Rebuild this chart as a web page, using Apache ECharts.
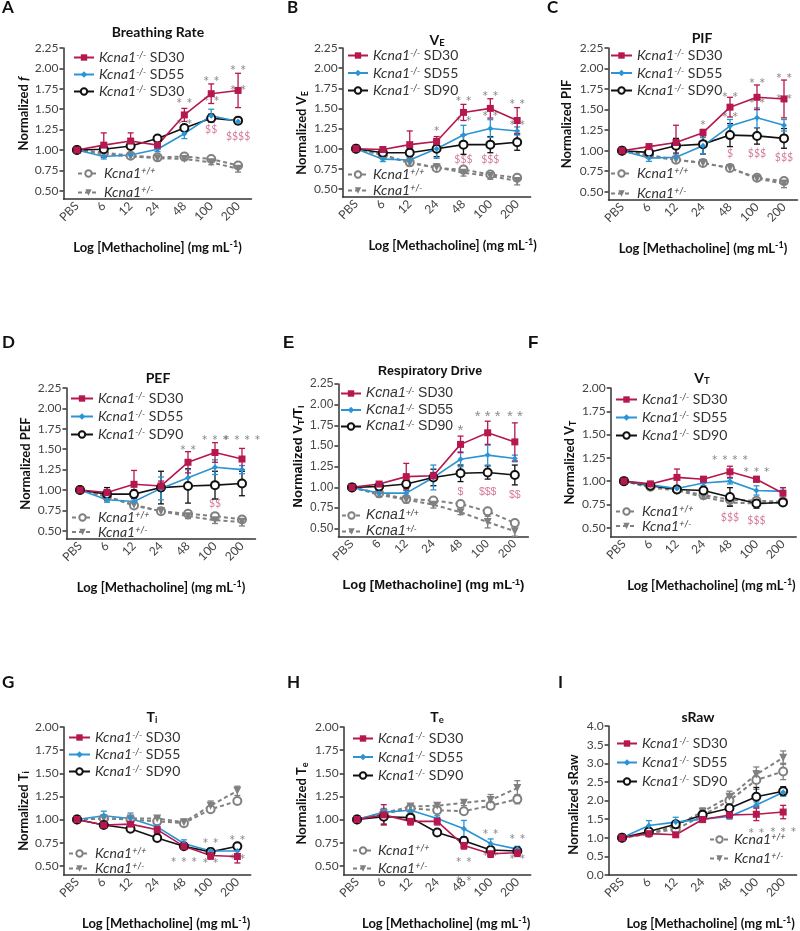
<!DOCTYPE html>
<html><head><meta charset="utf-8">
<script src="https://cdn.jsdelivr.net/npm/echarts@6/dist/echarts.min.js"></script>
<style>html,body{margin:0;padding:0;background:#fff}#c{width:800px;height:931px}</style>
</head><body><div id="c"></div>
<script>
// ---------------- DATA ----------------
const categories = ['PBS','6','12','24','48','100','200'];
const yTicks225 = [0.5,0.75,1.0,1.25,1.5,1.75,2.0,2.25];
const yTicks200 = [0.5,0.75,1.0,1.25,1.5,1.75,2.0];
const yTicksRaw = [0,0.5,1.0,1.5,2.0,2.5,3.0,3.5,4.0];

// A – Breathing Rate
const A_sd30 = [1.00,1.06,1.11,1.06,1.43,1.69,1.73];
const A_sd30_err = [0,0.15,0.10,0.05,0.08,0.12,0.21];
const A_sd55 = [1.00,0.92,0.94,1.01,1.20,1.42,1.35];
const A_sd55_err = [0,0.03,0.03,0.03,0.06,0.08,0.03];
const A_sd90 = [1.00,1.01,1.05,1.14,1.27,1.39,1.36];
const A_sd90_err = [0,0.04,0.04,0.02,0.04,0.05,0.04];
const A_wt = [1.00,0.97,0.93,0.91,0.92,0.89,0.81];
const A_wt_err = [0,0.02,0.02,0.02,0.02,0.02,0.03];
const A_het = [1.00,0.95,0.92,0.90,0.89,0.85,0.77];
const A_het_err = [0,0.02,0.02,0.02,0.02,0.03,0.04];
const A_stars = [[4,1.61,'* *'],[4,1.35,'* *'],[5,1.88,'* *'],[5,1.63,'* *'],[6,2.02,'* *'],[6,1.77,'* *']];
const A_dollars = [[5,1.25,'$$'],[6,1.17,'$$$$']];

// B – VE
const B_sd30 = [1.00,0.99,1.05,1.09,1.45,1.50,1.35];
const B_sd30_err = [0,0.03,0.17,0.06,0.10,0.12,0.16];
const B_sd55 = [1.00,0.87,0.86,1.00,1.17,1.25,1.22];
const B_sd55_err = [0,0.03,0.04,0.12,0.12,0.11,0.05];
const B_sd90 = [1.00,0.95,0.95,1.00,1.05,1.05,1.08];
const B_sd90_err = [0,0.03,0.05,0.10,0.12,0.10,0.10];
const B_wt = [1.00,0.92,0.83,0.76,0.74,0.68,0.64];
const B_wt_err = [0,0.02,0.02,0.02,0.03,0.03,0.03];
const B_het = [1.00,0.92,0.82,0.77,0.70,0.66,0.60];
const B_het_err = [0,0.02,0.03,0.02,0.04,0.04,0.05];
const B_stars = [[3,1.25,'*'],[4,1.63,'* *'],[4,1.38,'* *'],[5,1.69,'* *'],[5,1.44,'* *'],[6,1.59,'* *'],[6,1.33,'* *']];
const B_dollars = [[4,0.86,'$$$'],[5,0.86,'$$$']];

// C – PIF
const C_sd30 = [1.00,1.05,1.10,1.22,1.53,1.65,1.63];
const C_sd30_err = [0,0.03,0.21,0.04,0.12,0.15,0.23];
const C_sd55 = [1.00,0.91,0.92,1.06,1.30,1.40,1.31];
const C_sd55_err = [0,0.04,0.04,0.10,0.08,0.12,0.07];
const C_sd90 = [1.00,0.98,1.06,1.08,1.19,1.18,1.15];
const C_sd90_err = [0,0.03,0.09,0.12,0.14,0.10,0.12];
const C_wt = [1.00,0.95,0.89,0.85,0.79,0.67,0.63];
const C_wt_err = [0,0.02,0.02,0.02,0.02,0.03,0.03];
const C_het = [1.00,0.93,0.89,0.85,0.79,0.66,0.60];
const C_het_err = [0,0.02,0.02,0.02,0.02,0.03,0.05];
const C_stars = [[3,1.35,'*'],[4,1.69,'* *'],[4,1.44,'* *'],[5,1.86,'* *'],[5,1.62,'* *'],[6,1.92,'* *'],[6,1.66,'* *']];
const C_dollars = [[4,0.96,'$'],[5,0.96,'$$$'],[6,0.92,'$$$']];

// D – PEF
const D_sd30 = [1.00,0.97,1.07,1.05,1.34,1.46,1.38];
const D_sd30_err = [0,0.03,0.17,0.06,0.13,0.12,0.13];
const D_sd55 = [1.00,0.88,0.86,1.02,1.15,1.28,1.25];
const D_sd55_err = [0,0.03,0.03,0.14,0.10,0.09,0.05];
const D_sd90 = [1.00,0.95,0.95,1.03,1.05,1.06,1.08];
const D_sd90_err = [0,0.08,0.05,0.20,0.21,0.17,0.15];
const D_wt = [1.00,0.92,0.81,0.74,0.71,0.68,0.64];
const D_wt_err = [0,0.02,0.02,0.02,0.03,0.03,0.03];
const D_het = [1.00,0.92,0.82,0.74,0.68,0.63,0.61];
const D_het_err = [0,0.02,0.02,0.02,0.03,0.04,0.05];
const D_stars = [[4,1.53,'* *'],[5,1.65,'* * *'],[6,1.65,'* * * *']];
const D_dollars = [[5,0.83,'$$']];

// E – Respiratory Drive (VT/Ti)
const E_sd30 = [1.00,1.04,1.13,1.14,1.52,1.66,1.55];
const E_sd30_err = [0,0.03,0.16,0.04,0.10,0.14,0.23];
const E_sd55 = [1.00,0.93,0.93,1.12,1.34,1.39,1.35];
const E_sd55_err = [0,0.02,0.03,0.15,0.09,0.12,0.04];
const E_sd90 = [1.00,1.01,1.04,1.12,1.17,1.18,1.15];
const E_sd90_err = [0,0.03,0.05,0.10,0.10,0.08,0.12];
const E_wt = [1.00,0.93,0.86,0.84,0.80,0.71,0.57];
const E_wt_err = [0,0.02,0.03,0.02,0.02,0.03,0.03];
const E_het = [1.00,0.91,0.85,0.79,0.70,0.58,0.47];
const E_het_err = [0,0.03,0.04,0.04,0.03,0.07,0.06];
const E_stars = [[4,1.73,'*'],[5,1.90,'* * *'],[6,1.90,'* *']];
const E_dollars = [[4,0.94,'$'],[5,0.94,'$$$'],[6,0.91,'$$']];

// F – VT
const F_sd30 = [1.00,0.97,1.04,1.02,1.10,1.02,0.87];
const F_sd30_err = [0,0.02,0.09,0.03,0.06,0.03,0.06];
const F_sd55 = [1.00,0.96,0.92,0.98,1.00,0.90,0.89];
const F_sd55_err = [0,0.02,0.03,0.03,0.03,0.05,0.04];
const F_sd90 = [1.00,0.95,0.91,0.90,0.83,0.76,0.77];
const F_sd90_err = [0,0.02,0.02,0.03,0.10,0.05,0.03];
const F_wt = [1.00,0.94,0.91,0.85,0.80,0.79,0.78];
const F_wt_err = [0,0.02,0.02,0.02,0.03,0.03,0.03];
const F_het = [1.00,0.93,0.90,0.83,0.77,0.76,0.77];
const F_het_err = [0,0.02,0.02,0.02,0.03,0.03,0.03];
const F_stars = [[4,1.26,'* * * *'],[5,1.13,'* * *']];
const F_dollars = [[4,0.61,'$$$'],[5,0.58,'$$$']];

// G – Ti
const G_sd30 = [1.00,0.94,0.95,0.89,0.71,0.61,0.60];
const G_sd30_err = [0,0.03,0.04,0.04,0.03,0.04,0.07];
const G_sd55 = [1.00,1.04,1.01,0.92,0.74,0.66,0.66];
const G_sd55_err = [0,0.05,0.06,0.03,0.04,0.03,0.03];
const G_sd90 = [1.00,0.94,0.90,0.80,0.71,0.65,0.71];
const G_sd90_err = [0,0.03,0.03,0.02,0.02,0.03,0.03];
const G_wt = [1.00,1.01,1.00,0.98,0.96,1.11,1.20];
const G_wt_err = [0,0.02,0.02,0.02,0.02,0.03,0.03];
const G_het = [1.00,1.01,1.01,1.01,0.97,1.15,1.31];
const G_het_err = [0,0.02,0.02,0.02,0.02,0.05,0.05];
const G_stars = [[5,0.78,'* *'],[6,0.81,'* *'],[4,0.57,'* * *'],[5,0.56,'* *'],[6,0.60,'* *']];
const G_dollars = [];

// H – Te
const H_sd30 = [1.00,1.05,0.98,0.98,0.72,0.63,0.64];
const H_sd30_err = [0,0.11,0.04,0.04,0.04,0.04,0.04];
const H_sd55 = [1.00,1.08,1.10,1.01,0.90,0.74,0.68];
const H_sd55_err = [0,0.04,0.03,0.03,0.09,0.05,0.03];
const H_sd90 = [1.00,1.03,1.02,0.86,0.77,0.67,0.66];
const H_sd90_err = [0,0.08,0.03,0.02,0.04,0.03,0.03];
const H_wt = [1.00,1.06,1.12,1.10,1.09,1.15,1.22];
const H_wt_err = [0,0.03,0.03,0.03,0.02,0.04,0.05];
const H_het = [1.00,1.07,1.14,1.15,1.18,1.21,1.34];
const H_het_err = [0,0.03,0.03,0.03,0.03,0.06,0.08];
const H_stars = [[4,0.57,'* *'],[4,0.37,'* *'],[5,0.87,'* *'],[5,0.64,'* *'],[6,0.82,'* *'],[6,0.60,'* *']];
const H_dollars = [];

// I – sRaw
const I_sd30 = [1.00,1.11,1.08,1.49,1.61,1.63,1.69];
const I_sd30_err = [0,0.05,0.05,0.08,0.08,0.17,0.18];
const I_sd55 = [1.00,1.33,1.42,1.50,1.57,1.88,2.22];
const I_sd55_err = [0,0.13,0.13,0.07,0.07,0.08,0.10];
const I_sd90 = [1.00,1.17,1.36,1.62,1.79,2.10,2.25];
const I_sd90_err = [0,0.05,0.08,0.10,0.12,0.25,0.12];
const I_wt = [1.00,1.13,1.22,1.60,2.00,2.55,2.78];
const I_wt_err = [0,0.04,0.06,0.08,0.12,0.25,0.22];
const I_het = [1.00,1.10,1.32,1.70,2.10,2.70,3.15];
const I_het_err = [0,0.04,0.08,0.10,0.15,0.20,0.18];
const I_stars = [[5,1.20,'* *'],[6,1.23,'* * *']];
const I_dollars = [];

// ---------------- STYLE / LAYOUT ----------------
const FONT = 'Lato, "Open Sans", sans-serif';
const FONT_E = '"Liberation Sans", Arial, sans-serif';
const COL = {sd30:'#b5174e', sd55:'#2a94d4', sd90:'#111111', wt:'#808080', het:'#808080'};
const AXC = '#333';
const TXT = '#444';

function pdata(id){
  return {
    sd30:[eval(id+'_sd30'), eval(id+'_sd30_err')],
    sd55:[eval(id+'_sd55'), eval(id+'_sd55_err')],
    sd90:[eval(id+'_sd90'), eval(id+'_sd90_err')],
    wt:[eval(id+'_wt'), eval(id+'_wt_err')],
    het:[eval(id+'_het'), eval(id+'_het_err')],
    stars: eval(id+'_stars'), dollars: eval(id+'_dollars')
  };
}

const panels = [
 {id:'A', ff:FONT, grid:[63.5,48,188,151], ymin:0.4, ymax:2.25, ticks:yTicks225, dec:2,
  yName:'{b|Normalized }{bi|f}', yGap:32.5, yPad:[0,0,0,20], xPad:0,
  title:'{t|Breathing Rate}', tPos:[158,32], letter:[2,8],
  legTop:[73,57,16,20], legBot:[77,173,18,21], sd90Label:'SD30'},
 {id:'B', ff:FONT, grid:[342.6,48,188,149], ymin:0.4, ymax:2.25, ticks:yTicks225, dec:2,
  yName:'{b|Normalized V}{sub|E}', yGap:33.5, yPad:[0,21,0,0], xPad:32,
  title:'{t|V}{s|E}', tPos:[437,40], letter:[287,8],
  legTop:[347,55,16.5,20], legBot:[347,174,15,20], sd90Label:'SD90'},
 {id:'C', ff:FONT, grid:[608.5,48,189,152], ymin:0.4, ymax:2.25, ticks:yTicks225, dec:2,
  yName:'{b|Normalized PIF}', yGap:34.5, yPad:[0,0,0,0], xPad:0,
  title:'{t|PIF}', tPos:[702,38], letter:[547,8],
  legTop:[610,55,16.5,21], legBot:[610,173,19,21], sd90Label:'SD90'},
 {id:'D', ff:FONT, grid:[66.5,388,189,151], ymin:0.4, ymax:2.25, ticks:yTicks225, dec:2,
  yName:'{b|Normalized PEF}', yGap:33.5, yPad:[0,0,0,0], xPad:0,
  title:'{t|PEF}', tPos:[158,378], letter:[2,343],
  legTop:[70,398,17,22], legBot:[71,517,13.5,21], sd90Label:'SD90'},
 {id:'E', ff:FONT_E, grid:[338.4,384,190,153], ymin:0.4, ymax:2.25, ticks:yTicks225, dec:2, tSize:12.5,
  yName:'{b|Normalized V}{sub|T}{b|/T}{sub|I}', yGap:32.5, yPad:[0,0,0,8], xPad:0,
  title:'{t|Respiratory Drive}', tPos:[430,372], letter:[283,343],
  legTop:[340,393,15.5,20], legBot:[341,515,15,19], sd90Label:'SD90'},
 {id:'F', ff:FONT, grid:[610.7,388,185.5,149], ymin:0.4, ymax:2.0, ticks:yTicks200, dec:2,
  yName:'{b|Normalized V}{sub|T}', yGap:33, yPad:[0,0,0,0], xPad:16,
  title:'{t|V}{s|T}', tPos:[702,378], letter:[528,343], letterFF:FONT_E,
  legTop:[615,399,17,21], legBot:[615,511,13.5,21], sd90Label:'SD90'},
 {id:'G', ff:FONT, grid:[63.7,727,187,149], ymin:0.4, ymax:2.0, ticks:yTicks200, dec:2,
  yName:'{b|Normalized T}{sub|i}', yGap:31.5, yPad:[0,20,0,0], xPad:18,
  title:'{t|T}{s|i}', tPos:[152,717], letter:[2,683],
  legTop:[68,737,16,21], legBot:[68,853,14,21], sd90Label:'SD90'},
 {id:'H', ff:FONT, grid:[343.7,727,187,149], ymin:0.4, ymax:2.0, ticks:yTicks200, dec:2,
  yName:'{b|Normalized T}{sub|e}', yGap:34.5, yPad:[0,5,0,0], xPad:18,
  title:'{t|T}{s|e}', tPos:[437,717], letter:[287,683],
  legTop:[352,738,17.5,20], legBot:[352,850,17,20], sd90Label:'SD90'},
 {id:'I', ff:FONT, grid:[608.6,726,188,150], ymin:0, ymax:4.0, ticks:yTicksRaw, dec:1,
  yName:'{b|Normalized sRaw}', yGap:27, yPad:[0,8,0,0], xPad:16,
  title:'{t|sRaw}', tPos:[698,717], letter:[558,683],
  legTop:[616,743,18,20], legBot:[709,839,18,19], sd90Label:'SD90'}
];

function axisNameRich(ff){
  return {
    b:{fontFamily:ff,fontWeight:'bold',fontSize:13,lineHeight:15,color:'#111'},
    bi:{fontFamily:ff,fontWeight:'bold',fontStyle:'italic',fontSize:13,lineHeight:15,color:'#111'},
    sub:{fontFamily:ff,fontWeight:'bold',fontSize:9,lineHeight:10,verticalAlign:'bottom',color:'#111'},
    sup:{fontFamily:ff,fontWeight:'bold',fontSize:9,lineHeight:10,verticalAlign:'top',color:'#111'}
  };
}
function legendRich(ff){
  return {
    i:{fontFamily:ff,fontStyle:'italic',fontSize:14,lineHeight:13,color:'#333'},
    s:{fontFamily:ff,fontStyle:'italic',fontSize:9,lineHeight:8,verticalAlign:'top',color:'#333'},
    n:{fontFamily:ff,fontSize:14,lineHeight:13,color:'#333'}
  };
}

function errRender(params, api){
  const x = api.value(0), y = api.value(1), e = api.value(2);
  if (!e) return null;
  const hi = api.coord([x, y + e]), lo = api.coord([x, y - e]);
  const w = 3;
  const st = {stroke: api.visual('color'), lineWidth: 1.3};
  return {type:'group', children:[
    {type:'line', shape:{x1:hi[0],y1:hi[1],x2:lo[0],y2:lo[1]}, style:st},
    {type:'line', shape:{x1:hi[0]-w,y1:hi[1],x2:hi[0]+w,y2:hi[1]}, style:st},
    {type:'line', shape:{x1:lo[0]-w,y1:lo[1],x2:lo[0]+w,y2:lo[1]}, style:st}
  ]};
}

const LINESTYLE = {
  sd30:{symbol:'rect', symbolSize:7, lineStyle:{color:COL.sd30,width:1.6}, itemStyle:{color:COL.sd30}},
  sd55:{symbol:'diamond', symbolSize:6, lineStyle:{color:COL.sd55,width:1.6}, itemStyle:{color:COL.sd55}},
  sd90:{symbol:'emptyCircle', symbolSize:8, lineStyle:{color:COL.sd90,width:1.6}, itemStyle:{color:COL.sd90,borderWidth:1.5}},
  wt:{symbol:'emptyCircle', symbolSize:8, lineStyle:{color:COL.wt,width:2,type:[4,3]}, itemStyle:{color:COL.wt,borderWidth:1.5}},
  het:{symbol:'triangle', symbolRotate:180, symbolSize:8, lineStyle:{color:COL.het,width:2,type:[4,3]}, itemStyle:{color:COL.het}}
};

const grids=[], xAxes=[], yAxes=[], series=[], legends=[], graphics=[];
const labelMap = {};

panels.forEach((p, gi) => {
  const d = pdata(p.id);
  grids.push({left:p.grid[0], top:p.grid[1], width:p.grid[2], height:p.grid[3], containLabel:false});
  xAxes.push({
    type:'category', gridIndex:gi, data:categories, boundaryGap:true,
    axisLine:{lineStyle:{color:AXC,width:1.5}},
    axisTick:{alignWithLabel:true,length:4,lineStyle:{color:AXC,width:1.5}},
    axisLabel:{rotate:45, interval:0, fontSize:12, color:TXT, fontFamily:p.ff, margin:5},
    splitLine:{show:false},
    name:'{b|Log [Methacholine] (mg mL}{sup|-1}{b|)}', nameLocation:'middle', nameGap:41,
    nameTextStyle:{rich:axisNameRich(p.ff), padding:[0,0,0,p.xPad]}
  });
  const yAx = {
    type:'value', gridIndex:gi, min:p.ymin, max:p.ymax,
    axisLine:{show:true,lineStyle:{color:AXC,width:1.5}},
    axisTick:{show:true,length:4,lineStyle:{color:AXC,width:1.5}},
    axisLabel:{fontSize:12, color:TXT, fontFamily:p.ff, margin:5, formatter:v=>v.toFixed(p.dec)},
    splitLine:{show:false},
    name:p.yName, nameLocation:'middle', nameGap:p.yGap,
    nameTextStyle:{rich:axisNameRich(p.ff), padding:p.yPad}
  };
  if (p.id === 'I') { yAx.interval = 0.5; }
  else { yAx.axisTick.customValues = p.ticks; yAx.axisLabel.customValues = p.ticks; }
  yAxes.push(yAx);

  // significance annotations
  series.push({type:'scatter', xAxisIndex:gi, yAxisIndex:gi, data:d.stars, symbolSize:1, clip:false, silent:true,
    itemStyle:{color:'rgba(0,0,0,0)'}, z:1,
    label:{show:true, position:'inside', offset:[0,4], formatter:q=>q.data[2], color:'#6e6e6e', fontSize:15, fontFamily:p.ff}});
  series.push({type:'scatter', xAxisIndex:gi, yAxisIndex:gi, data:d.dollars, symbolSize:1, clip:false, silent:true,
    itemStyle:{color:'rgba(0,0,0,0)'}, z:1,
    label:{show:true, position:'inside', formatter:q=>q.data[2], color:'#c9577f', fontSize:10.5, fontFamily:p.ff}});

  ['wt','het','sd90','sd55','sd30'].forEach(k => {
    const vals = d[k][0], errs = d[k][1];
    series.push({type:'custom', name:p.id+'-'+k+'-err', xAxisIndex:gi, yAxisIndex:gi, silent:true, z:2,
      renderItem:errRender, itemStyle:{color:COL[k]},
      data: vals.map((v,i)=>[i, v, errs[i]])});
    series.push(Object.assign({type:'line', name:p.id+'-'+k, xAxisIndex:gi, yAxisIndex:gi, data:vals,
      silent:true, z:3, showAllSymbol:true}, JSON.parse(JSON.stringify(LINESTYLE[k]))));
  });

  labelMap[p.id+'-sd30'] = '{i|Kcna1}{s|-/-}{n| SD30}';
  labelMap[p.id+'-sd55'] = '{i|Kcna1}{s|-/-}{n| SD55}';
  labelMap[p.id+'-sd90'] = '{i|Kcna1}{s|-/-}{n| ' + p.sd90Label + '}';
  labelMap[p.id+'-wt'] = '{i|Kcna1}{s|+/+}';
  labelMap[p.id+'-het'] = '{i|Kcna1}{s|+/-}';

  const mkLeg = (cfg, names) => ({
    left:cfg[0], top:cfg[1]-6.5, orient:'vertical', itemWidth:cfg[3], itemHeight:8, itemGap:cfg[2]-13,
    padding:0, selectedMode:false, data:names, formatter:n=>labelMap[n],
    textStyle:{fontFamily:p.ff, fontSize:14, lineHeight:13, color:'#333', rich:legendRich(p.ff)}
  });
  legends.push(mkLeg(p.legTop, [p.id+'-sd30', p.id+'-sd55', p.id+'-sd90']));
  legends.push(mkLeg(p.legBot, [p.id+'-wt', p.id+'-het']));

  const ts = p.tSize || 14;
  graphics.push({type:'text', x:p.tPos[0], y:p.tPos[1], silent:true, style:{
    text:p.title, align:'center', verticalAlign:'middle', fill:'#111',
    rich:{t:{fontFamily:p.ff,fontWeight:'bold',fontSize:ts,lineHeight:16,fill:'#111'},
          s:{fontFamily:p.ff,fontWeight:'bold',fontSize:9.5,lineHeight:9,verticalAlign:'bottom',fill:'#111'}}}});
  graphics.push({type:'text', x:p.letter[0], y:p.letter[1], silent:true, style:{
    text:p.id, align:'left', verticalAlign:'middle', fill:'#111',
    fontFamily:p.letterFF || p.ff, fontWeight:'bold', fontSize:17}});
});

const chart = echarts.init(document.getElementById('c'), null, {renderer:'canvas'});
chart.setOption({
  animation:false, backgroundColor:'#fff',
  grid:grids, xAxis:xAxes, yAxis:yAxes, legend:legends, series:series, graphic:graphics
});
</script></body></html>
